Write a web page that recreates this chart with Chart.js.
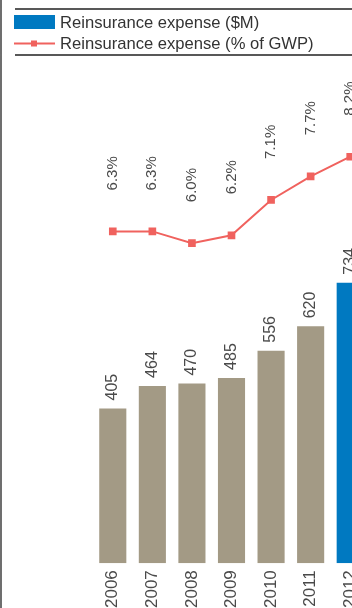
<!DOCTYPE html>
<html>
<head>
<meta charset="utf-8">
<script src="https://cdn.jsdelivr.net/npm/chart.js@4"></script>
<style>
  html, body { margin: 0; padding: 0; background: #fff; overflow: hidden; }
  #wrap { position: relative; width: 400px; height: 620px; }
</style>
</head>
<body>
<div id="wrap"><canvas id="chart"></canvas></div>
<script>
// chart values
var years = ["2006", "2007", "2008", "2009", "2010", "2011", "2012"];
var expenseM = [405, 464, 470, 485, 556, 620, 734];
var expensePct = [6.3, 6.3, 6.0, 6.2, 7.1, 7.7, 8.2];
var seriesNames = ["Reinsurance expense ($M)", "Reinsurance expense (% of GWP)"];

var TAN = "#a39a85";
var BLUE = "#0079c1";
var RED = "#f0625e";
var FONT = "'Liberation Sans', Arial, sans-serif";

// value labels above bars and points, rotated like the original
var valueLabels = {
  id: "valueLabels",
  afterDatasetsDraw: function (chart) {
    var ctx = chart.ctx;
    ctx.save();
    ctx.fillStyle = "#4a4a4a";
    ctx.textAlign = "left";
    ctx.textBaseline = "middle";
    chart.getDatasetMeta(0).data.forEach(function (el, i) {
      ctx.save();
      ctx.font = "16px " + FONT;
      ctx.translate(el.x, el.y - 8);
      ctx.rotate(-Math.PI / 2);
      ctx.fillText(String(expenseM[i]), 0, 0);
      ctx.restore();
    });
    chart.getDatasetMeta(1).data.forEach(function (el, i) {
      ctx.save();
      ctx.font = "15px " + FONT;
      ctx.translate(el.x, el.y - 41);
      ctx.rotate(-Math.PI / 2);
      ctx.fillText(expensePct[i].toFixed(1) + "%", 0, 0);
      ctx.restore();
    });
    ctx.restore();
  }
};

// legend block with rules above/below and the left frame line
var legendBlock = {
  id: "legendBlock",
  afterDraw: function (chart) {
    var ctx = chart.ctx;
    var w = chart.width;
    ctx.save();
    ctx.strokeStyle = "#222";
    ctx.lineWidth = 1.3;
    ctx.beginPath();
    ctx.moveTo(1, 0); ctx.lineTo(1, chart.height);
    ctx.moveTo(15, 9); ctx.lineTo(w, 9);
    ctx.moveTo(15, 55); ctx.lineTo(w, 55);
    ctx.stroke();

    // bar swatch
    ctx.fillStyle = BLUE;
    ctx.fillRect(14, 15, 41, 14);
    // line swatch
    ctx.strokeStyle = RED;
    ctx.lineWidth = 2;
    ctx.beginPath();
    ctx.moveTo(14, 43.5); ctx.lineTo(55, 43.5);
    ctx.stroke();
    ctx.fillStyle = RED;
    ctx.fillRect(31, 40.5, 6, 6);

    ctx.fillStyle = "#333";
    ctx.font = "16.6px " + FONT;
    ctx.textAlign = "left";
    ctx.textBaseline = "middle";
    ctx.fillText(seriesNames[0], 60, 23.5);
    ctx.fillText(seriesNames[1], 60, 44.5);
    ctx.restore();
  }
};

var chart = new Chart(document.getElementById("chart").getContext("2d"), {
  data: {
    labels: years,
    datasets: [
      {
        type: "bar",
        label: seriesNames[0],
        data: expenseM,
        yAxisID: "y",
        order: 1,
        backgroundColor: function (c) {
          return c.dataIndex === years.length - 1 ? BLUE : TAN;
        },
        borderWidth: 0,
        categoryPercentage: 1,
        barPercentage: 0.685
      },
      {
        type: "line",
        label: seriesNames[1],
        data: expensePct,
        yAxisID: "y1",
        order: 0,
        borderColor: RED,
        backgroundColor: RED,
        borderWidth: 2,
        pointStyle: "rect",
        pointRadius: 4,
        pointHoverRadius: 4,
        tension: 0
      }
    ]
  },
  options: {
    responsive: true,
    maintainAspectRatio: false,
    animation: false,
    layout: { padding: { top: 60, left: 93, right: 30, bottom: 5 } },
    plugins: { legend: { display: false }, tooltip: { enabled: false } },
    scales: {
      x: {
        offset: true,
        grid: { display: false, drawTicks: false },
        border: { display: false },
        ticks: {
          color: "#4a4a4a",
          font: { family: FONT, size: 17 },
          minRotation: 90,
          maxRotation: 90,
          autoSkip: false,
          padding: 7
        }
      },
      y: { display: false, min: 0, max: 1317 },
      y1: { display: false, min: -2.14, max: 10.66 }
    }
  },
  plugins: [valueLabels, legendBlock]
});
</script>
</body>
</html>
